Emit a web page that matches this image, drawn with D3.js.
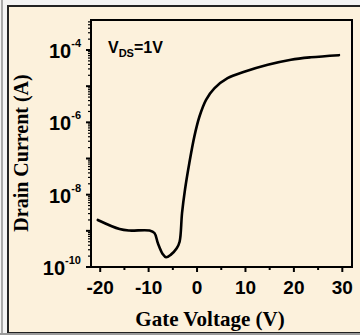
<!DOCTYPE html>
<html lang="en">
<head>
<meta charset="UTF-8">
<title>Drain Current vs Gate Voltage</title>
<script src="https://d3js.org/d3.v7.min.js"></script>
<style>
    body { margin: 0; background: #f3f3f3; }
    svg { display: block; }
    .tick-label { font-family: 'Liberation Sans', Arial, sans-serif; font-weight: bold; fill: #000; }
    .axis-title { font-family: 'Liberation Serif', 'Times New Roman', serif; font-weight: bold; fill: #000; }
</style>
</head>
<body>
<svg width="360" height="335"></svg>
<script>
    // transfer curve
    const gateVoltage = [-20.5, -16.0, -14.0, -9.8, -8.8, -8.1, -7.1, -6.4, -5.4, -4.2, -3.6, -3.1,
                         -2.5, -1.6, -0.55, 0.5, 1.86, 3.57, 6.3, 9.75, 14.6, 19.4, 23.5, 29.3];
    const drainCurrent = [2.0e-9, 1.12e-9, 1.02e-9, 1.02e-9, 8.7e-10, 4.6e-10, 2.3e-10, 1.86e-10, 2.2e-10,
                          3.3e-10, 5.0e-10, 3.1e-9, 1.35e-8, 7.4e-8, 4.1e-7, 1.45e-6, 4.2e-6, 8.7e-6,
                          1.66e-5, 2.5e-5, 3.9e-5, 5.4e-5, 6.3e-5, 7.2e-5];
    const xTicks = [-20, -10, 0, 10, 20, 30];
    const yLabelExps = [-10, -8, -6, -4];

    const svg = d3.select("svg");

    // framed cream panel
    svg.append("rect").attr("x", 1).attr("y", 0).attr("width", 2).attr("height", 335).attr("fill", "#a8a8a8");
    svg.append("rect")
       .attr("x", 8).attr("y", 6).attr("width", 356).attr("height", 327)
       .attr("fill", "#fcf1dc").attr("stroke", "#222").attr("stroke-width", 2);
    svg.append("rect").attr("x", 0).attr("y", 333).attr("width", 360).attr("height", 2).attr("fill", "#9a9a9a");

    const plotL = 91, plotR = 352, plotT = 20, plotB = 267;

    const x = d3.scaleLinear().domain([-21.9, 32]).range([plotL, plotR]);
    const y = d3.scaleLog().domain([1e-10, Math.pow(10, -3.17)]).range([plotB, plotT]);

    const chart = svg.append("g");

    // x ticks
    const xMinor = d3.range(-20, 31, 5);
    chart.selectAll(".xt").data(xMinor).enter().append("line")
         .attr("x1", d => x(d)).attr("x2", d => x(d))
         .attr("y1", plotB).attr("y2", d => plotB + (d % 10 === 0 ? 5 : 3))
         .attr("stroke", "#000").attr("stroke-width", 2);
    chart.selectAll(".xl").data(xTicks).enter().append("text")
         .attr("class", "tick-label")
         .attr("x", d => x(d)).attr("y", 294)
         .attr("text-anchor", "middle")
         .style("font-size", "19px")
         .text(d => d);

    // y ticks: majors every decade, minors 2..9
    const decades = d3.range(-10, -3);
    chart.selectAll(".yt").data(decades).enter().append("line")
         .attr("x1", plotL - 5).attr("x2", plotL)
         .attr("y1", d => y(Math.pow(10, d))).attr("y2", d => y(Math.pow(10, d)))
         .attr("stroke", "#000").attr("stroke-width", 2);
    const minors = [];
    decades.forEach(e => d3.range(2, 10).forEach(m => {
        const v = m * Math.pow(10, e);
        if (v < y.domain()[1]) minors.push(v);
    }));
    chart.selectAll(".ym").data(minors).enter().append("line")
         .attr("x1", plotL - 3).attr("x2", plotL)
         .attr("y1", d => y(d)).attr("y2", d => y(d))
         .attr("stroke", "#000").attr("stroke-width", 1.2);

    const yl = chart.selectAll(".yl").data(yLabelExps).enter().append("text")
         .attr("class", "tick-label")
         .attr("x", 81).attr("y", d => y(Math.pow(10, d)) + 8)
         .attr("text-anchor", "end");
    yl.append("tspan").style("font-size", "20px").text("10");
    yl.append("tspan").attr("dy", -11).style("font-size", "11px").text(d => "-" + Math.abs(d));

    // frame
    chart.append("rect")
         .attr("x", plotL).attr("y", plotT).attr("width", plotR - plotL).attr("height", plotB - plotT)
         .attr("fill", "none").attr("stroke", "#000").attr("stroke-width", 2);

    // curve
    const pts = gateVoltage.map((v, i) => [v, drainCurrent[i]]);
    chart.append("path")
         .datum(pts)
         .attr("fill", "none").attr("stroke", "#000").attr("stroke-width", 2.6)
         .attr("stroke-linejoin", "round").attr("stroke-linecap", "round")
         .attr("d", d3.line().x(d => x(d[0])).y(d => y(d[1])).curve(d3.curveCatmullRom.alpha(0.5)));

    // annotation
    const ann = chart.append("text").attr("class", "tick-label")
         .attr("x", 108).attr("y", 53).style("font-size", "16px");
    ann.append("tspan").text("V");
    ann.append("tspan").attr("dy", 4).style("font-size", "11px").text("DS");
    ann.append("tspan").attr("dy", -4).text("=1V");

    // axis titles
    svg.append("text").attr("class", "axis-title")
       .attr("x", 210).attr("y", 326).attr("text-anchor", "middle")
       .style("font-size", "21px")
       .text("Gate Voltage (V)");
    svg.append("text").attr("class", "axis-title")
       .attr("transform", "translate(28,153) rotate(-90)")
       .attr("text-anchor", "middle")
       .style("font-size", "20px")
       .text("Drain Current (A)");
</script>
</body>
</html>
